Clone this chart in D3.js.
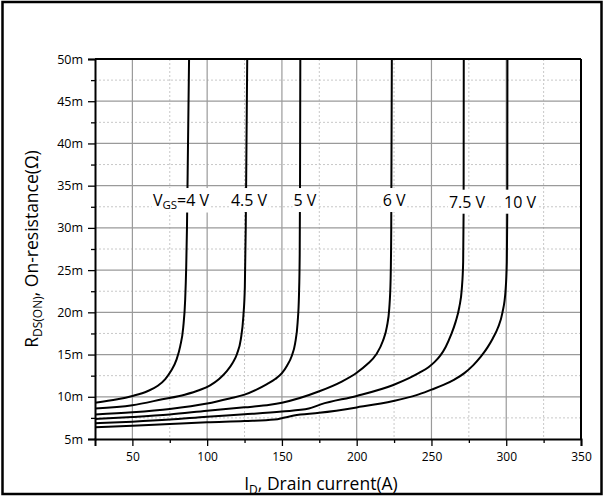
<!DOCTYPE html>
<html><head><meta charset="utf-8">
<script src="https://cdn.jsdelivr.net/npm/d3@7"></script>
<style>
body{margin:0;background:#fff;}
text{font-family:"Open Sans","Noto Sans",sans-serif;fill:#000;}
</style></head>
<body><svg id="c" width="604" height="497"></svg>
<script>
// ---- data (I_D in A, R in mΩ) ----
const seriesNames = ["4 V","4.5 V","5 V","6 V","7.5 V","10 V"];
const s4 = [[25,9.3],[40,9.7],[50,10.1],[60,10.65],[67,11.3],[72,12.1],[76,13.1],[79.5,14.4],[82,16.0],[84,18.2],[85.3,21.5],[86,25.4],[86.5,30],[87.2,40],[87.9,50]];
const s45 = [[25,8.6],[50,9.0],[70,9.7],[85,10.25],[95,10.8],[102,11.35],[108,12.1],[113,13.0],[117,14.0],[120,15.1],[122.5,16.8],[124.2,19.5],[125.2,23],[125.8,30],[126.3,40],[126.8,50]];
const s5 = [[25,7.9],[50,8.16],[75,8.55],[100,9.2],[115,9.8],[125,10.25],[133,10.85],[140,11.5],[145.5,12.1],[150,12.8],[153.5,13.7],[156.5,14.8],[158.8,16.3],[160.5,18.8],[161.4,22],[161.9,27],[162.1,35],[162.3,50]];
const s6 = [[25,7.37],[50,7.6],[75,7.9],[100,8.35],[125,8.75],[142,9.05],[150,9.3],[175,10.65],[190,11.8],[200,12.85],[207,13.85],[213,15.0],[217.5,16.6],[220.2,18.3],[221.8,20.5],[222.7,24],[223.1,30],[223.5,50]];
const s75 = [[25,6.86],[50,7.05],[75,7.3],[100,7.64],[125,7.92],[150,8.25],[168,8.6],[176,9.1],[200,10.1],[224.5,11.4],[235,12.2],[242,12.85],[248,13.5],[252,14.1],[256,14.9],[259.5,15.9],[263,17.3],[266.2,18.9],[268.6,20.6],[270.3,22.8],[271.2,26],[271.5,32],[271.6,50]];
const s10 = [[25,6.39],[50,6.58],[75,6.78],[100,6.98],[125,7.12],[145,7.3],[152,7.55],[158,7.78],[175,8.1],[200,8.74],[224.5,9.5],[240,10.2],[250,10.85],[258,11.4],[265,12.0],[272,12.8],[278,13.75],[283,14.75],[287.5,15.85],[291,16.9],[294.5,18.2],[297.5,20],[299.5,22.5],[300.4,26],[300.7,32],[300.8,50]];
const seriesData = [s4, s45, s5, s6, s75, s10];
const labelX = [82.5, 128, 165.4, 225, 273.8, 309.2];   // label centres (A)
const labelY = [33.3, 33.3, 33.3, 33.3, 33.1, 33.1];     // label centres (mΩ)

const xTicks = [50,100,150,200,250,300,350];
const xMinor = [75,125,175,225,275,325];
const yTicks = [5,10,15,20,25,30,35,40,45,50];
const yMinor = [7.5,12.5,17.5,22.5,27.5,32.5,37.5,42.5,47.5];

// ---- layout ----
const svg = d3.select("#c");
const L=95, T=59, R=581, B=439;
const x = d3.scaleLinear().domain([25,350]).range([L,R]);
const y = d3.scaleLinear().domain([5,50]).range([B,T]);

// outer border
svg.append("rect").attr("x",2.5).attr("y",2).attr("width",599).attr("height",492)
  .attr("fill","none").attr("stroke","#000").attr("stroke-width",2.5);

// grid
const g = svg.append("g");
g.selectAll(".mx").data(xMinor).join("line")
  .attr("x1",d=>x(d)).attr("x2",d=>x(d)).attr("y1",T).attr("y2",B)
  .attr("stroke","#c8c8c8").attr("stroke-width",1).attr("stroke-dasharray","2,2");
g.selectAll(".my").data(yMinor).join("line")
  .attr("y1",d=>y(d)).attr("y2",d=>y(d)).attr("x1",L).attr("x2",R)
  .attr("stroke","#c8c8c8").attr("stroke-width",1).attr("stroke-dasharray","2,2");
g.selectAll(".Mx").data(xTicks.filter(d=>d<350)).join("line")
  .attr("x1",d=>x(d)).attr("x2",d=>x(d)).attr("y1",T).attr("y2",B)
  .attr("stroke","#9a9a9a").attr("stroke-width",1.2);
g.selectAll(".My").data(yTicks.filter(d=>d>5&&d<50)).join("line")
  .attr("y1",d=>y(d)).attr("y2",d=>y(d)).attr("x1",L).attr("x2",R)
  .attr("stroke","#9a9a9a").attr("stroke-width",1.2);

// curves
svg.append("clipPath").attr("id","clip").append("rect")
  .attr("x",L).attr("y",T).attr("width",R-L).attr("height",B-T);
const line = d3.line().x(d=>x(d[0])).y(d=>y(d[1])).curve(d3.curveMonotoneX);
svg.append("g").attr("clip-path","url(#clip)").selectAll("path").data(seriesData).join("path")
  .attr("d",line).attr("fill","none").attr("stroke","#000").attr("stroke-width",2);

// labels with white background
const lg = svg.append("g");
seriesNames.forEach((name,i)=>{
  const t = lg.append("text").attr("x",x(labelX[i])).attr("y",y(labelY[i]))
    .attr("text-anchor","middle").attr("dominant-baseline","central")
    .attr("font-size",16);
  if(i===0){
    t.append("tspan").text("V");
    t.append("tspan").attr("font-size",11.5).attr("dy",4).text("GS");
    t.append("tspan").attr("dy",-4).text("="+name);
  } else t.text(name);
  const bb = t.node().getBBox();
  lg.insert("rect","text:last-of-type").attr("x",bb.x-1).attr("y",bb.y-1)
    .attr("width",bb.width+2).attr("height",bb.height+2).attr("fill","#fff");
  t.raise();
});

// axes
const xAxis = d3.axisBottom(x).tickValues(xTicks).tickSize(7).tickPadding(6);
svg.append("g").attr("transform",`translate(0,${B})`).call(xAxis);
const xMinorAxis = d3.axisBottom(x).tickValues(xMinor).tickSize(4).tickFormat("");
svg.append("g").attr("transform",`translate(0,${B})`).call(xMinorAxis).select(".domain").remove();
const yAxis = d3.axisLeft(y).tickValues(yTicks).tickSize(7).tickPadding(5).tickFormat(d=>d+"m");
svg.append("g").attr("class","yax").attr("transform",`translate(${L},0)`).call(yAxis);
const yMinorAxis = d3.axisLeft(y).tickValues(yMinor).tickSize(4).tickFormat("");
svg.append("g").attr("transform",`translate(${L},0)`).call(yMinorAxis).select(".domain").remove();
svg.selectAll(".tick text").attr("font-size",12).attr("font-family","Open Sans, Noto Sans, sans-serif").attr("fill","#000");
svg.selectAll(".yax .tick text").attr("font-size",12.5);
svg.selectAll(".tick line").attr("stroke","#000").attr("stroke-width",1.3);
svg.selectAll(".domain").attr("stroke","#000").attr("stroke-width",2);
// top / right frame
svg.append("line").attr("x1",L).attr("x2",R).attr("y1",T).attr("y2",T).attr("stroke","#000").attr("stroke-width",2);
svg.append("line").attr("x1",R).attr("x2",R).attr("y1",T).attr("y2",B).attr("stroke","#000").attr("stroke-width",2);

// axis titles
const xt = svg.append("text").attr("x",321).attr("y",490).attr("text-anchor","middle").attr("font-size",17.5);
xt.append("tspan").text("I");
xt.append("tspan").attr("font-size",12).attr("dy",4).text("D");
xt.append("tspan").attr("dy",-4).text(", Drain current(A)");
const yt = svg.append("text").attr("transform",`translate(38,${(T+B)/2}) rotate(-90)`)
  .attr("text-anchor","middle").attr("font-size",17.5);
yt.append("tspan").text("R");
yt.append("tspan").attr("font-size",12).attr("dy",4).text("DS(ON)");
yt.append("tspan").attr("dy",-4).text(", On-resistance(Ω)");
</script></body></html>
